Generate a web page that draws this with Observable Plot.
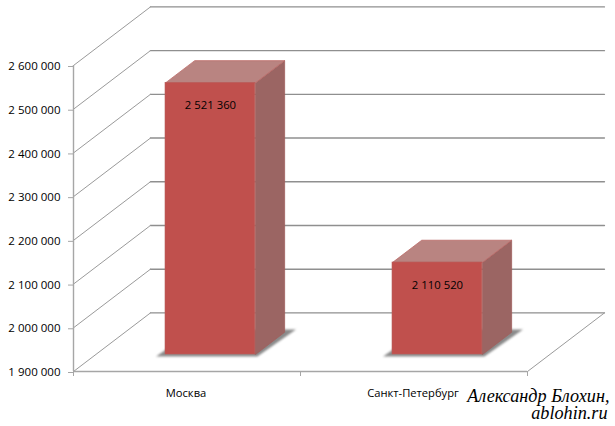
<!DOCTYPE html>
<html>
<head>
<meta charset="utf-8">
<script src="https://cdn.jsdelivr.net/npm/d3@7"></script>
<script src="https://cdn.jsdelivr.net/npm/@observablehq/plot@0.6"></script>
<style>
html,body{margin:0;padding:0;background:#fff}
svg{display:block}
</style>
</head>
<body>
<div id="chart"></div>
<script>
const categories = ["Москва", "Санкт-Петербург"];
const values = [2521360, 2110520];
const yTicks = [1900000, 2000000, 2100000, 2200000, 2300000, 2400000, 2500000, 2600000];
const xBoundaries = [0, 1, 2];
const xCenters = [0.5, 1.5];
const signature = ["Александр Блохин,", "ablohin.ru"];

const yMin = yTicks[0], yMax = yTicks[yTicks.length - 1];
// Oblique projection: a point at depth d (0 = front, 1 = back wall) shifts in scale units
const depthX = 0.339, depthY = 134000;
const proj = (u, v, d) => ({x: u + d * depthX, y: v + d * depthY});
const barFront = 0.29, barBack = 0.67, barHalf = 0.198, shift = 0.005;
const fmt = v => d3.format(",")(v).replace(/,/g, "\u2009\u200a");

const polygon = (pts) => [...pts, pts[0]];

const leftDiagonals = yTicks.flatMap(v => [proj(0, v, 0), proj(0, v, 1)].map(p => ({...p, k: v})));
const backLines = yTicks.flatMap(v => [proj(0, v, 1), proj(2, v, 1)].map(p => ({...p, k: v})));
const rightFloor = [proj(2, yMin, 0), proj(2, yMin, 1)];

const bars = categories.map((c, i) => {
  const u = xCenters[i] + shift, v = values[i];
  const l = u - barHalf, r = u + barHalf;
  return {
    c, v,
    x1: proj(l, v, barFront).x,
    x2: proj(r, v, barFront).x,
    y1: proj(l, yMin, barFront).y,
    y2: proj(l, v, barFront).y,
    cx: proj(u, v, barFront).x,
    top: polygon([proj(l, v, barFront), proj(r, v, barFront), proj(r, v, barBack), proj(l, v, barBack)]),
    side: polygon([proj(r, v, barFront), proj(r, yMin, barFront), proj(r, yMin, barBack), proj(r, v, barBack)]),
    shadow: polygon([proj(u - 0.228, yMin, 0.256), proj(u + 0.218, yMin, 0.256), proj(u + 0.232, yMin, 0.717), proj(u - 0.214, yMin, 0.717)])
  };
});

const polyMarks = (key, opts) => bars.map(b => Plot.line(b[key], {x: "x", y: "y", ...opts}));

const chart = Plot.plot({
  width: 615,
  height: 426,
  marginLeft: 73,
  marginRight: 88,
  marginTop: 65,
  marginBottom: 55,
  style: {background: "#fff", fontFamily: "Tahoma, 'DejaVu Sans', sans-serif"},
  x: {domain: [0, 2], axis: null},
  y: {domain: [yMin, yMax], axis: null},
  marks: [
    Plot.line(backLines, {x: "x", y: "y", z: "k", stroke: "#8f8f8f", strokeWidth: 1.4}),
    Plot.line(leftDiagonals, {x: "x", y: "y", z: "k", stroke: "#9a9a9a", strokeWidth: 1}),
    Plot.line(rightFloor, {x: "x", y: "y", stroke: "#9a9a9a", strokeWidth: 1}),
    Plot.ruleX([0], {y1: yMin, y2: yMax, stroke: "#a6a6a6", strokeWidth: 1.4}),
    Plot.ruleY([yMin], {x1: 0, x2: 2, stroke: "#a6a6a6", strokeWidth: 1.4}),
    Plot.axisY({ticks: yTicks, tickSize: 5, tickPadding: 8, stroke: "#a6a6a6", fill: "#000", fontSize: 11.5,
      dy: 1, fontFamily: "'Open Sans', sans-serif", tickFormat: fmt, label: null}),
    Plot.axisX({ticks: xBoundaries, tickSize: 5, stroke: "#a6a6a6", tickFormat: () => "", label: null}),
    Plot.axisX({ticks: xCenters, tickSize: 0, tickPadding: 18, fill: "#000", fontSize: 11.2, stroke: "none",
      dx: -1, fontFamily: "'Open Sans', sans-serif", tickFormat: u => categories[xCenters.indexOf(u)], label: null}),
    ...polyMarks("shadow", {stroke: "none", fill: "#8a8a8a", imageFilter: "blur(1.2px)"}),
    ...polyMarks("side", {stroke: "#a0605d", strokeWidth: 0.8, fill: "#9b6563"}),
    ...polyMarks("top", {stroke: "#bb6a67", strokeWidth: 0.8, fill: "#b98481"}),
    Plot.rect(bars, {x1: "x1", x2: "x2", y1: "y1", y2: "y2", fill: "#c0504d", stroke: "#b8605d", strokeWidth: 0.6}),
    Plot.text(bars, {x: "cx", y: "y2", dy: 22.5, text: d => fmt(d.v), fill: "#000", fontSize: 11.3,
      fontFamily: "'Open Sans', sans-serif"}),
    Plot.text([signature[0]], {frameAnchor: "bottom-right", text: d => d, dx: 82, dy: 30, textAnchor: "end",
      fontFamily: "'Liberation Serif', serif", fontStyle: "italic", fontSize: 18.2, fill: "#000"}),
    Plot.text([signature[1]], {frameAnchor: "bottom-right", text: d => d, dx: 80, dy: 47.5, textAnchor: "end",
      fontFamily: "'Liberation Serif', serif", fontStyle: "italic", fontSize: 18.2, fill: "#000"})
  ]
});
document.getElementById("chart").append(chart);
</script>
</body>
</html>
